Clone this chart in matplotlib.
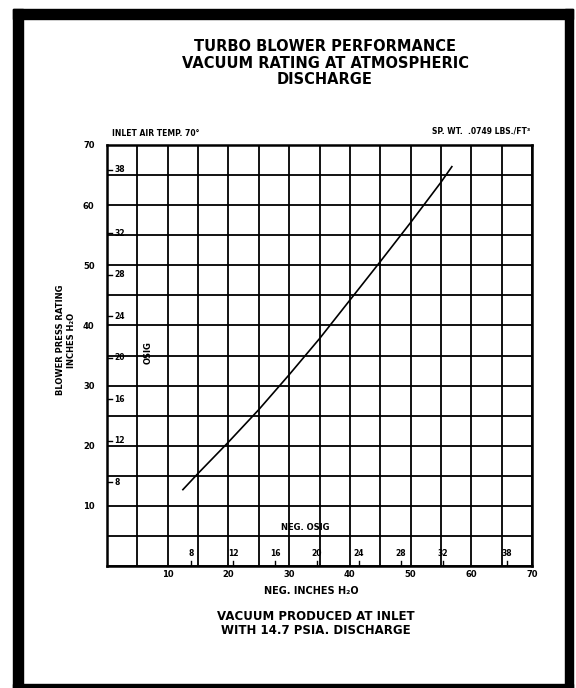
import numpy as np
import matplotlib
matplotlib.use("Agg")
import matplotlib.pyplot as plt
from matplotlib.patches import Rectangle

plt.rcParams["font.family"] = ["DejaVu Sans"]
plt.rcParams["font.weight"] = "bold"

# performance curve (neg. inches H2O vs blower press rating)
vacuum_in = [12.5, 15, 20, 25, 30, 35, 40, 45, 50, 55, 56.8]
press_in = [12.7, 15.4, 20.6, 26.0, 31.8, 37.8, 44.2, 50.6, 57.1, 63.8, 66.4]

# inner OSIG scale (ounces/sq in) and where each mark sits in inches H2O
osig_labels = ["8", "12", "16", "20", "24", "28", "32", "38"]
osig_inches = [13.9, 20.8, 27.7, 34.6, 41.5, 48.4, 55.3, 65.9]

x_ticks = [10, 20, 30, 40, 50, 60, 70]
y_ticks = [10, 20, 30, 40, 50, 60, 70]

W, H = 576, 688


def fx(px):
    return px / W


def fy(py):
    return 1 - py / H


fig = plt.figure(figsize=(5.76, 6.88), dpi=100)
fig.patch.set_facecolor("white")

# heavy black frame around the sheet
for (x0, y0, x1, y1) in [(13, 9, 23, 688), (13, 9, 573, 19),
                         (565, 9, 573, 688), (13, 684, 573, 688)]:
    fig.patches.append(Rectangle((fx(x0), fy(y1)), fx(x1) - fx(x0),
                                 fy(y0) - fy(y1), transform=fig.transFigure,
                                 color="black", zorder=0))

ax = fig.add_axes([fx(107), fy(566), fx(532) - fx(107), fy(145) - fy(566)])
ax.set_xlim(0, 70)
ax.set_ylim(0, 70)

grid = np.arange(0, 71, 5)
ax.set_xticks(grid)
ax.set_yticks(grid)
ax.set_xticklabels([str(v) if v in x_ticks else "" for v in grid])
ax.set_yticklabels([str(v) if v in y_ticks else "" for v in grid])
ax.tick_params(length=0, labelsize=6)
ax.tick_params(axis="x", pad=3)
ax.tick_params(axis="y", pad=9)
ax.grid(True, color="black", linewidth=1.3)
for s in ax.spines.values():
    s.set_linewidth(1.8)

ax.plot(vacuum_in, press_in, color="black", linewidth=1.2, zorder=3)

# OSIG marks up the left side and along the bottom
for lab, v in zip(osig_labels, osig_inches):
    ax.plot([0, 0.9], [v, v], color="black", linewidth=1)
    ax.text(1.2, v, lab, fontsize=5.5, ha="left", va="center")
    ax.plot([v, v], [0, 0.9], color="black", linewidth=1)
    ax.text(v, 1.3, lab, fontsize=5.5, ha="center", va="bottom")

ax.text(6.8, 35.5, "OSIG", fontsize=6, rotation=90, ha="center", va="center")
ax.text(32.6, 6.4, "NEG. OSIG", fontsize=6, ha="center", va="center")

fig.text(fx(112), fy(134), "INLET AIR TEMP. 70°", fontsize=5.5,
         ha="left", va="center")
fig.text(fx(530), fy(131), "SP. WT.  .0749 LBS./FT³", fontsize=5.5,
         ha="right", va="center")

fig.text(fx(66), fy(340), "BLOWER PRESS RATING\nINCHES H₂O", fontsize=6,
         rotation=90, ha="center", va="center", multialignment="center")

fig.text(fx(325), fy(63), "TURBO BLOWER PERFORMANCE\n"
         "VACUUM RATING AT ATMOSPHERIC\nDISCHARGE", fontsize=10.5,
         ha="center", va="center", multialignment="center", linespacing=1.1)

fig.text(fx(311), fy(591), "NEG. INCHES H₂O", fontsize=7,
         ha="center", va="center")
fig.text(fx(316), fy(624), "VACUUM PRODUCED AT INLET\nWITH 14.7 PSIA. DISCHARGE",
         fontsize=8.5, ha="center", va="center", multialignment="center",
         linespacing=1.1)

fig.savefig("out.png", dpi=100, facecolor="white")
